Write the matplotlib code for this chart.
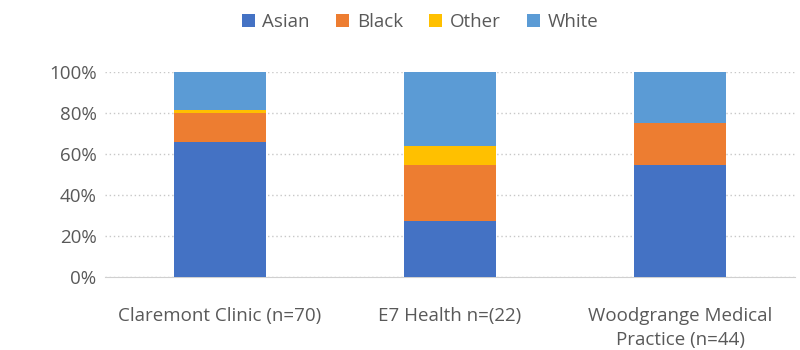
import numpy as np
import matplotlib.pyplot as plt
from matplotlib.ticker import PercentFormatter

# practice labels and ethnicity shares (%)
practices = ['Claremont Clinic (n=70)', 'E7 Health n=(22)', 'Woodgrange Medical\nPractice (n=44)']
groups = ['Asian', 'Black', 'Other', 'White']
asian = [65.7, 27.3, 54.5]
black = [14.3, 27.3, 20.5]
other = [1.4, 9.1, 0.0]
white = [18.6, 36.3, 25.0]
colors = ['#4472C4', '#ED7D31', '#FFC000', '#5B9BD5']

plt.rcParams['font.family'] = ['Open Sans', 'DejaVu Sans']
txt = '#595959'

fig = plt.figure(figsize=(8, 3.5), dpi=100)
ax = fig.add_axes([0.131, 0.209, 0.863, 0.585])

x = np.arange(len(practices))
bottom = np.zeros(len(practices))
for name, vals, c in zip(groups, [asian, black, other, white], colors):
    ax.bar(x, vals, 0.4, bottom=bottom, color=c, label=name, zorder=3)
    bottom += np.array(vals)

ax.set_xlim(-0.5, 2.5)
ax.set_ylim(0, 100)
ax.set_yticks(np.arange(0, 101, 20))
ax.yaxis.set_major_formatter(PercentFormatter(decimals=0))
ax.set_xticks(x)
ax.set_xticklabels(practices, linespacing=1.4)
ax.grid(axis='y', color='#c8c8c8', linestyle=(0, (1, 2)), linewidth=1, zorder=0)
for s in ['top', 'right', 'left']:
    ax.spines[s].set_visible(False)
ax.spines['bottom'].set_color('#d0d0d0')
ax.tick_params(length=0, labelsize=13.5, colors=txt)
ax.tick_params(axis='y', pad=6)
ax.tick_params(axis='x', pad=22)

fig.legend(loc='upper center', bbox_to_anchor=(0.525, 1.01), ncol=4, frameon=False,
           fontsize=13.5, labelcolor=txt, handlelength=0.7, handleheight=0.7,
           handletextpad=0.4, columnspacing=1.4)

fig.savefig('out.png', dpi=100)
